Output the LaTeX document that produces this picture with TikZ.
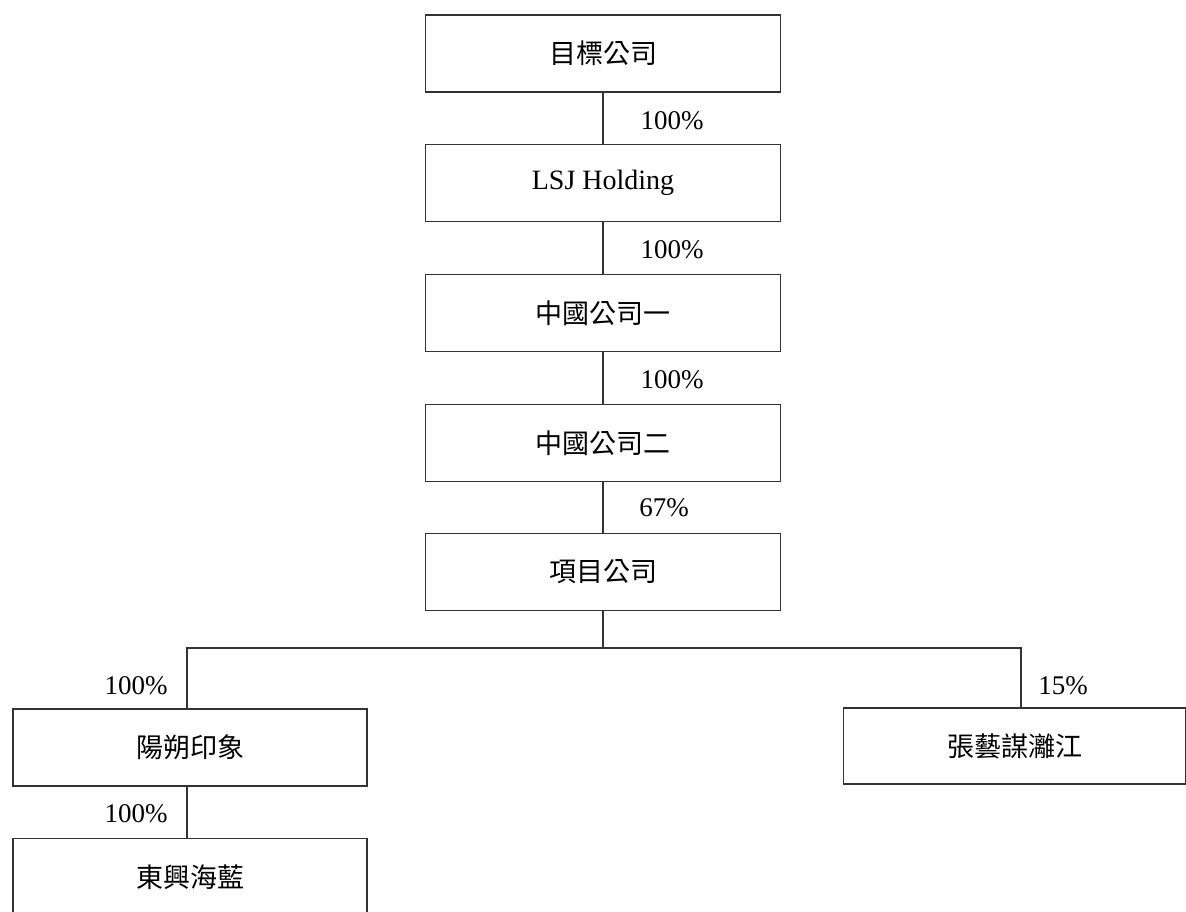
\documentclass[tikz,border=0pt]{standalone}
\usepackage{fontspec}
\setmainfont{Liberation Serif}
\newfontfamily\cjk{Noto Sans CJK TC}
\usetikzlibrary{positioning}

\begin{document}
\begin{tikzpicture}[
    x=1pt, y=-1pt,
    cobox/.style={
        rectangle,
        draw=black!80,
        line width=1.3pt,
        inner sep=0pt,
        minimum width=355pt,
        minimum height=77pt,
        font=\fontsize{27}{30}\selectfont\cjk},
    pct/.style={
        inner sep=0pt,
        font=\fontsize{27}{30}\selectfont},
    link/.style={-,draw=black!80,line width=1.3pt}
]
\useasboundingbox (0,0) rectangle (1186,911);
\clip (0,0) rectangle (1186,911);

% main chain
\node[cobox] (target) at (603, 53.5) {目標公司};
\node[cobox,font=\fontsize{28}{30}\selectfont] (lsj) at (603, 183) {LSJ Holding};
\node[cobox] (cn1) at (603, 313) {中國公司一};
\node[cobox] (cn2) at (603, 443) {中國公司二};
\node[cobox] (proj) at (603, 572) {項目公司};

% lower level
\node[cobox, minimum width=354pt] (ys) at (190, 747.5) {陽朔印象};
\node[cobox, minimum width=354pt] (dx) at (190, 877) {東興海藍};
\node[cobox, minimum width=342pt, minimum height=76pt] (zy) at (1014.5, 746) {張藝謀灕江};

\coordinate (fork) at (603, 648);

\path[link]
    (target) edge (lsj)
    (lsj) edge (cn1)
    (cn1) edge (cn2)
    (cn2) edge (proj);
\draw[link] (proj) -- (fork);
\draw[link] (fork) -| ([xshift=-3pt]ys.north);
\draw[link] (fork) -| ([xshift=6.5pt]zy.north);
\draw[link] ([xshift=-3pt]ys.south) -- ([xshift=-3pt]dx.north);

% shares
\node[pct] (p1) at (672, 121) {100\%};
\node[pct] (p2) at (672, 250) {100\%};
\node[pct] (p3) at (672, 380) {100\%};
\node[pct] (p4) at (664, 508) {67\%};
\node[pct] (p5) at (136, 686) {100\%};
\node[pct] (p6) at (136, 814) {100\%};
\node[pct] (p7) at (1063, 686) {15\%};
\end{tikzpicture}
\end{document}
